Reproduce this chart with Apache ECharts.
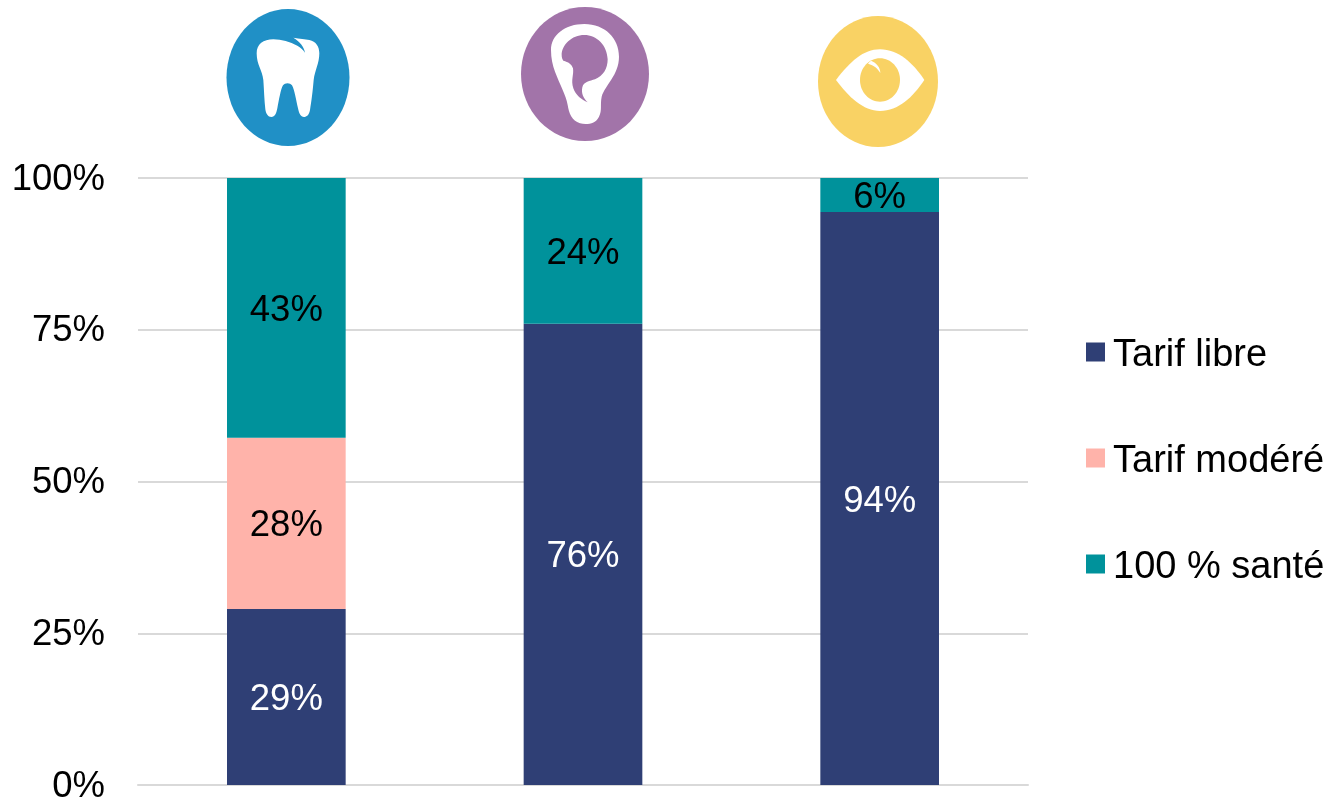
<!DOCTYPE html>
<html><head><meta charset="utf-8">
<style>html,body{margin:0;padding:0;background:#fff}#c{width:1328px;height:800px}</style>
<script src="https://cdn.jsdelivr.net/npm/echarts@6/dist/echarts.min.js"></script>
</head><body><div id="c"></div>
<script>
const categories = ['Dentaire', 'Audiologie', 'Optique'];
const seriesNames = ['Tarif libre', 'Tarif modéré', '100 % santé'];
const tarifLibre = [29, 76, 94.4];
const tarifModere = [28.2, null, null];
const centPctSante = [42.8, 24, 5.6];
const yTicks = { min: 0, max: 100, interval: 25 };
const colors = ['#2F3F75', '#FFB3AA', '#00929B'];
const labelColors = ['#fff', '#000', '#000'];
const font = '"Liberation Sans", Arial, sans-serif';

function pathEl(d, fill, ox, oy) {
  return { type: 'path', x: ox, y: oy, scaleX: 1 / 3, scaleY: 1 / 3, shape: { pathData: d }, style: { fill } };
}
const blue = '#2090C6', purple = '#A274A9', yellow = '#F9D264';
const graphics = [
  { type: 'ellipse', shape: { cx: 288, cy: 77.5, rx: 61.5, ry: 68.5 }, style: { fill: blue } },
  pathEl('M140,160 C140,132 160,118 190,118 C215,118 240,125 262,137 C272,143 280,150 285,158 C282,140 270,125 250,113 C270,116 285,118 298,120 C318,124 328,140 328,160 C328,190 315,210 311,240 C308,275 305,300 300,330 C297,345 290,351 282,351 C272,351 267,340 264,325 C258,300 254,270 246,256 C240,248 225,248 219,256 C212,268 207,300 202,325 C199,340 195,351 184,351 C174,351 168,342 166,328 C163,300 162,270 160,240 C157,210 140,195 140,160 Z', '#fff', 210, 0),
  { type: 'ellipse', shape: { cx: 585, cy: 74, rx: 64, ry: 67 }, style: { fill: purple } },
  pathEl('M138,150 C138,105 180,72 238,72 C300,72 342,115 342,170 C342,225 300,255 290,290 C285,315 292,330 282,350 C272,372 245,375 225,370 C200,362 192,340 188,315 C183,285 165,255 150,215 C143,195 138,175 138,150 Z M175,182 C190,186 200,192 204,205 C207,225 197,240 205,265 C212,285 230,300 248,307 C235,295 228,280 232,262 C236,245 255,243 270,238 C295,228 308,205 308,178 C306,135 275,105 238,105 C200,105 170,135 170,165 C170,172 172,178 175,182 Z', '#fff', 505, 0),
  { type: 'ellipse', shape: { cx: 878, cy: 81.5, rx: 60, ry: 65.5 }, style: { fill: yellow } },
  pathEl('M108,240 C150,185 190,148 240,148 C295,148 340,190 373,240 C340,290 295,333 240,333 C190,333 145,290 108,240 Z', '#fff', 800, 0),
  { type: 'ellipse', shape: { cx: 880, cy: 80, rx: 20, ry: 21.7 }, style: { fill: yellow } },
  pathEl('M213,182 C230,188 241,203 241,219 C233,205 222,196 204,191 C207,187 210,184 213,182 Z', '#fff', 800, 0)
];

const values = [tarifLibre, tarifModere, centPctSante];
const chart = echarts.init(document.getElementById('c'), null, { renderer: 'canvas' });
const bars = seriesNames.map((name, i) => ({
  name, type: 'bar', stack: 'total', data: values[i], barWidth: '40%',
  itemStyle: { color: colors[i] },
  label: { show: true, position: 'inside', offset: [0, 3], formatter: p => Math.round(p.value) + '%', fontSize: 36.5, color: labelColors[i], fontFamily: font }
}));
const icons = {
  type: 'custom', coordinateSystem: 'none', data: [0], silent: true, clip: false,
  renderItem: () => ({ type: 'group', children: graphics })
};
chart.setOption({
  animation: false,
  backgroundColor: '#fff',
  textStyle: { fontFamily: font },
  grid: { left: 138, right: 300, top: 178, bottom: 15, containLabel: false, outerBoundsMode: 'none' },
  legend: {
    orient: 'vertical', left: 1086, top: 329, padding: 0, data: seriesNames,
    icon: 'rect', itemWidth: 19, itemHeight: 19, itemGap: 60,
    formatter: '{t|{name}}',
    textStyle: {
      fontSize: 38, color: '#000', fontFamily: font,
      rich: { t: { fontSize: 38, color: '#000', fontFamily: font, lineHeight: 40, padding: [8, 0, 0, 3] } }
    }
  },
  xAxis: {
    type: 'category', data: categories,
    axisLine: { lineStyle: { color: '#D9D9D9', width: 2 } },
    axisTick: { show: false }, axisLabel: { show: false }, splitLine: { show: false }
  },
  yAxis: {
    type: 'value', min: yTicks.min, max: yTicks.max, interval: yTicks.interval,
    axisLine: { show: false }, axisTick: { show: false },
    axisLabel: {
      formatter: '{v|{value}%}', color: '#000', margin: 33, fontFamily: font, fontSize: 36.5,
      rich: { v: { fontSize: 36.5, color: '#000', fontFamily: font, padding: [3, 0, 0, 0] } }
    },
    splitLine: { lineStyle: { color: '#D9D9D9', width: 2 } }
  },
  series: bars.concat([icons])
});
</script></body></html>
